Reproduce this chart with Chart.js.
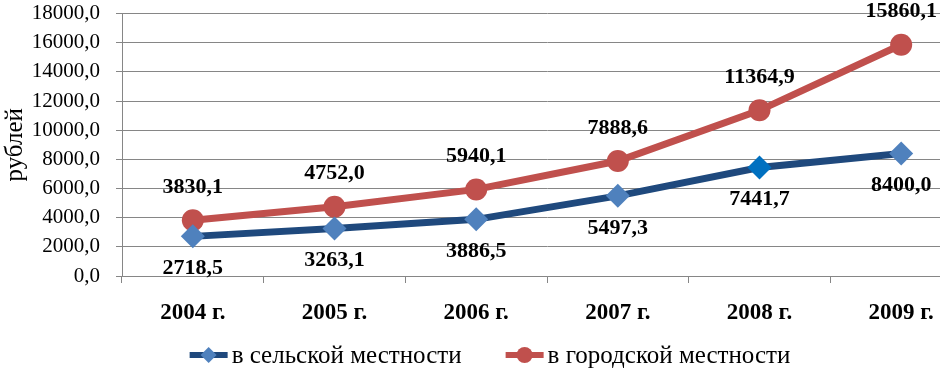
<!DOCTYPE html>
<html>
<head>
<meta charset="utf-8">
<script src="https://cdn.jsdelivr.net/npm/chart.js@4"></script>
<style>
  html, body { margin: 0; padding: 0; background: #fff; overflow: hidden; }
  #wrap { width: 984px; height: 390px; margin-top: -15px; }
</style>
</head>
<body>
<div id="wrap"><canvas id="grafico"></canvas></div>
<script>
// Dados do gráfico
const anos = ['2004 г.', '2005 г.', '2006 г.', '2007 г.', '2008 г.', '2009 г.'];
const valoresSelo = [2718.5, 3263.1, 3886.5, 5497.3, 7441.7, 8400.0];
const valoresGorod = [3830.1, 4752.0, 5940.1, 7888.6, 11364.9, 15860.1];
const nomesSeries = ['в сельской местности', 'в городской местности'];
const tituloEixoY = 'рублей';

const fonte = '"Liberation Serif", "Times New Roman", serif';
const corCinza = '#868686';

function formata(v) {
  return v.toFixed(1).replace('.', ',');
}

// Rótulos de valores ao lado dos pontos
const rotulos = {
  id: 'rotulos',
  afterDatasetsDraw(chart) {
    const ctx = chart.ctx;
    ctx.save();
    ctx.font = 'bold 22px ' + fonte;
    ctx.fillStyle = '#000';
    ctx.textAlign = 'center';
    ctx.textBaseline = 'middle';
    chart.data.datasets.forEach(function(ds, i) {
      const meta = chart.getDatasetMeta(i);
      const desloc = i === 0 ? 32 : -33;
      meta.data.forEach(function(pt, j) {
        ctx.fillText(formata(ds.data[j]), pt.x, pt.y + desloc);
      });
    });
    ctx.restore();
  }
};

// Legenda desenhada à mão: linha com marcador + texto
const legenda = {
  id: 'legenda',
  afterDraw(chart) {
    const ctx = chart.ctx;
    ctx.save();
    ctx.font = '25px ' + fonte;
    ctx.textBaseline = 'middle';
    ctx.textAlign = 'left';
    const larguraIcone = 42, folga = 2, espaco = 42;
    const itens = chart.data.datasets.map(function(ds) {
      return { ds: ds, w: larguraIcone + folga + ctx.measureText(ds.label).width };
    });
    const total = itens.reduce(function(s, it) { return s + it.w; }, 0) + espaco * (itens.length - 1);
    let x = chart.width / 2 - 3 - total / 2;
    const y = chart.height - 20;
    itens.forEach(function(it) {
      const ds = it.ds;
      ctx.strokeStyle = ds.borderColor;
      ctx.lineWidth = 6;
      ctx.beginPath(); ctx.moveTo(x + 2, y); ctx.lineTo(x + larguraIcone - 2, y); ctx.stroke();
      ctx.fillStyle = ds.backgroundColor;
      const cx = x + larguraIcone / 2;
      ctx.beginPath();
      if (ds.pointStyle === 'rectRot') {
        ctx.moveTo(cx, y - 8); ctx.lineTo(cx + 8, y); ctx.lineTo(cx, y + 8); ctx.lineTo(cx - 8, y);
      } else {
        ctx.arc(cx, y, 8, 0, Math.PI * 2);
      }
      ctx.fill();
      ctx.fillStyle = '#000';
      ctx.fillText(ds.label, x + larguraIcone + folga, y + 1);
      x += it.w + espaco;
    });
    ctx.restore();
  }
};

var ctx = document.getElementById('grafico').getContext('2d');
var grafico = new Chart(ctx, {
  type: 'line',
  data: {
    labels: anos,
    datasets: [{
      label: nomesSeries[0],
      data: valoresSelo,
      borderColor: '#1F497D',
      borderWidth: 7,
      backgroundColor: '#4F81BD',
      pointStyle: 'rectRot',
      pointRadius: 12,
      pointBorderWidth: 0,
      pointBackgroundColor: ['#4F81BD', '#4F81BD', '#4F81BD', '#4F81BD', '#0070C0', '#4F81BD'],
      tension: 0
    }, {
      label: nomesSeries[1],
      data: valoresGorod,
      borderColor: '#C0504D',
      borderWidth: 7,
      backgroundColor: '#C0504D',
      pointStyle: 'circle',
      pointRadius: 11,
      pointBorderWidth: 0,
      pointBackgroundColor: '#C0504D',
      tension: 0
    }]
  },
  options: {
    responsive: true,
    maintainAspectRatio: false,
    animation: { duration: 0 },
    layout: { padding: { top: 0, left: 0, right: 0, bottom: 49 } },
    plugins: {
      tooltip: { enabled: false },
      legend: { display: false }
    },
    scales: {
      x: {
        offset: true,
        grid: { drawOnChartArea: false, offset: true, tickLength: 7, color: corCinza },
        border: { color: corCinza },
        ticks: { color: '#000', font: { family: fonte, size: 23, weight: 'bold' }, padding: 16, maxRotation: 0 },
        afterFit: function(scale) { scale.height = 50; }
      },
      y: {
        min: 0,
        max: 18000,
        ticks: {
          stepSize: 2000,
          color: '#000',
          font: { family: fonte, size: 21 },
          padding: 16,
          callback: function(v) { return formata(v); }
        },
        grid: { color: corCinza, tickLength: 6 },
        border: { color: corCinza },
        title: { display: true, text: tituloEixoY, color: '#000', font: { family: fonte, size: 25 }, padding: { top: 0, bottom: 0 } },
        afterFit: function(scale) { scale.width = 122; }
      }
    }
  },
  plugins: [rotulos, legenda]
});
</script>
</body>
</html>
